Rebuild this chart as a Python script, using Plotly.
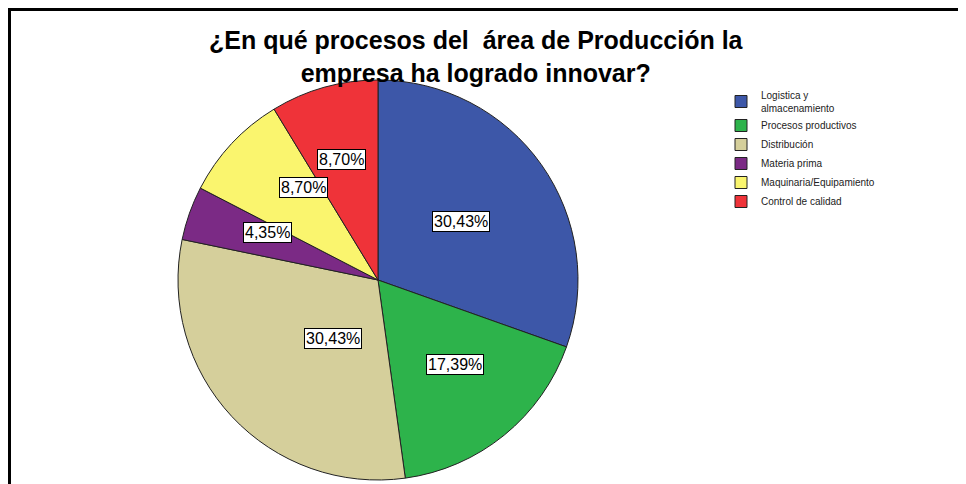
import math
import plotly.graph_objects as go

categories = ["Logistica y<br>almacenamiento", "Procesos productivos", "Distribución",
              "Materia prima", "Maquinaria/Equipamiento", "Control de calidad"]
percentages = [30.43, 17.39, 30.43, 4.35, 8.70, 8.70]
colors = ["#3D57A8", "#2DB34B", "#D5CF9B", "#7B2A85", "#FAF56E", "#EF3339"]
title_text = "¿En qué procesos del  área de Producción la<br>empresa ha logrado innovar?"

OFF = 8                      # page body margin
W, H = 966 - OFF, 484 - OFF  # figure size


def px_x(p):  # page pixel -> paper fraction
    return (p - OFF) / W


def px_y(p):
    return 1 - (p - OFF) / H


cx, cy, R = 378, 280, 200  # pie centre / radius (page pixels)

fig = go.Figure(go.Pie(
    labels=categories,
    values=percentages,
    sort=False,
    direction="clockwise",
    rotation=0,
    marker=dict(colors=colors, line=dict(color="#222222", width=1)),
    textinfo="none",
    hoverinfo="label+percent",
    domain=dict(x=[px_x(cx - R), px_x(cx + R)], y=[px_y(cy + R), px_y(cy - R)]),
))

# value labels in white boxes
total = sum(percentages)
cum = 0
annotations = []
for v in percentages:
    share = v / total
    mid = (cum + v / 2) / total * 2 * math.pi
    cum += v
    frac = 0.75 - 0.8 * share
    ppx = cx + frac * R * math.sin(mid)
    ppy = cy - frac * R * math.cos(mid)
    annotations.append(dict(
        x=px_x(ppx), y=px_y(ppy), xref="paper", yref="paper",
        text=f"{v:.2f}%".replace(".", ","), showarrow=False,
        font=dict(family="Liberation Sans, Arial", size=16, color="black"),
        bgcolor="white", bordercolor="black", borderwidth=1, borderpad=1,
    ))

annotations.append(dict(
    x=px_x(476), y=px_y(57), xref="paper", yref="paper", xanchor="center", yanchor="middle",
    text=f"<b>{title_text}</b>", showarrow=False,
    font=dict(family="Liberation Sans, Arial", size=25, color="black"),
))

fig.update_layout(
    width=W, height=H,
    margin=dict(l=0, r=0, t=0, b=0),
    paper_bgcolor="white", plot_bgcolor="white",
    legend=dict(x=px_x(721), y=px_y(82), xanchor="left", yanchor="top",
                font=dict(family="Liberation Sans, Arial", size=10, color="#222222"),
                tracegroupgap=0, itemwidth=30, bgcolor="rgba(0,0,0,0)"),
    annotations=annotations,
    shapes=[
        dict(type="line", xref="paper", yref="paper", x0=px_x(8), x1=1, y0=px_y(9.5), y1=px_y(9.5),
             line=dict(color="black", width=3)),
        dict(type="line", xref="paper", yref="paper", x0=px_x(9.5), x1=px_x(9.5), y0=0, y1=px_y(8),
             line=dict(color="black", width=3)),
    ],
)

fig.write_html("out.html")
